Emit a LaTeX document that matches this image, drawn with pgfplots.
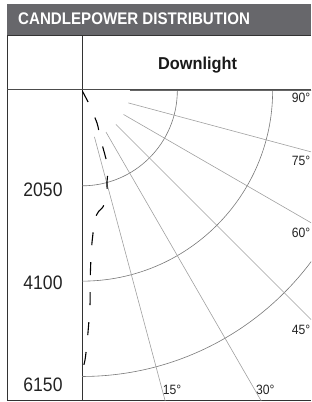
\documentclass[border=0pt]{standalone}
\usepackage{pgfplots}
\pgfplotsset{compat=1.18}
\usepackage{pgfplotstable}
\usepackage{fontspec}
\setmainfont{Liberation Sans}[FakeStretch=0.9]
\newfontfamily\dlfont{Liberation Sans}[FakeStretch=0.95]
\definecolor{barcol}{RGB}{103,103,107}
\definecolor{txt}{RGB}{35,35,35}
\definecolor{circcol}{RGB}{120,120,120}
\definecolor{radcol}{RGB}{160,160,160}
\pgfplotstableread{
ang cd
30 0
27.6 279
24.8 770
21.2 1072
19.6 1472
18.5 1758
15.1 2060
13.5 2310
10.2 2545
8.0 2618
6.5 2707
5.5 2804
5.1 2903
3.8 3264
3.1 3585
2.4 4143
2.2 4551
1.75 4937
1.1 5472
0.64 5795
0.2 5966
0 5988
}\cpdata
\begin{document}
\begin{tikzpicture}
\path[use as bounding box, clip] (0pt,0pt) rectangle (311pt,402pt);
% title bar
\fill[barcol] (7pt,367pt) rectangle (311pt,398pt);
\node[anchor=base west, inner sep=0pt, text=white, font=\fontsize{16.8}{19}\selectfont\bfseries] at (18pt,377pt) {CANDLEPOWER DISTRIBUTION};
% table lines
\draw[black!80, line width=0.9pt] (7pt,366.5pt) -- (311pt,366.5pt);
\draw[black!80, line width=0.9pt] (7pt,366.5pt) -- (7pt,1.5pt) -- (311pt,1.5pt);
\draw[black!80, line width=0.9pt] (82pt,366.5pt) -- (82pt,1.5pt);
\draw[black!70, line width=0.8pt] (7pt,312.25pt) -- (311pt,312.25pt);
% header
\node[anchor=base, inner sep=0pt, text=black!90, font=\fontsize{17.2}{20}\selectfont\dlfont\bfseries] at (197.5pt,332pt) {Downlight};
% radius labels
\node[anchor=base, inner sep=0pt, text=txt, font=\fontsize{19.5}{22}\selectfont] at (43pt,205.5pt) {2050};
\node[anchor=base, inner sep=0pt, text=txt, font=\fontsize{19.5}{22}\selectfont] at (43pt,112pt) {4100};
\node[anchor=base, inner sep=0pt, text=txt, font=\fontsize{19.5}{22}\selectfont] at (43pt,10.3pt) {6150};
% angle labels
\begin{scope}[every node/.style={anchor=base east, inner sep=0pt, text=txt, font=\fontsize{13.5}{15}\selectfont}]
\node at (310.5pt,299pt) {90°};
\node at (310.5pt,236.8pt) {75°};
\node at (310.5pt,164.7pt) {60°};
\node at (310.5pt,67.7pt) {45°};
\end{scope}
\begin{scope}[every node/.style={anchor=base west, inner sep=0pt, text=txt, font=\fontsize{13.5}{15}\selectfont}]
\node at (162.7pt,7pt) {15°};
\node at (256pt,7pt) {30°};
\end{scope}
\begin{axis}[at={(82pt,1.5pt)}, anchor=south west,
  x=0.0465pt, y=0.0465pt,
  xmin=0, xmax=5200, ymin=-6666.7, ymax=16.1,
  hide axis, clip=true]
% circles
\draw[circcol, line width=0.6pt] (axis cs:0,-2050) arc[start angle=-90, end angle=0, radius=95.325pt];
\draw[circcol, line width=0.6pt] (axis cs:0,-4100) arc[start angle=-90, end angle=0, radius=190.65pt];
\draw[circcol, line width=0.6pt] (axis cs:0,-6150) arc[start angle=-90, end angle=0, radius=285.975pt];
% radial lines
\addplot[radcol, line width=0.6pt, no marks] coordinates {(267.1,-996.8) (2329.4,-8693.3)};
\addplot[radcol, line width=0.6pt, no marks] coordinates {(516,-893.7) (4500,-7794.2)};
\addplot[radcol, line width=0.6pt, no marks] coordinates {(729.7,-729.7) (6364,-6364)};
\addplot[radcol, line width=0.6pt, no marks] coordinates {(893.7,-516) (7794.2,-4500)};
\addplot[radcol, line width=0.6pt, no marks] coordinates {(996.8,-267.1) (8693.3,-2329.4)};
\addplot[black!60, line width=0.7pt, no marks] coordinates {(1032,0) (9000,0)};
% candlepower curve
\addplot[black, line width=1.1pt, no marks, smooth, tension=0.4, dash pattern=on 13pt off 17pt]
  table[x expr={\thisrow{cd}*sin(\thisrow{ang})}, y expr={-\thisrow{cd}*cos(\thisrow{ang})}] {\cpdata};
\end{axis}
\end{tikzpicture}
\end{document}
